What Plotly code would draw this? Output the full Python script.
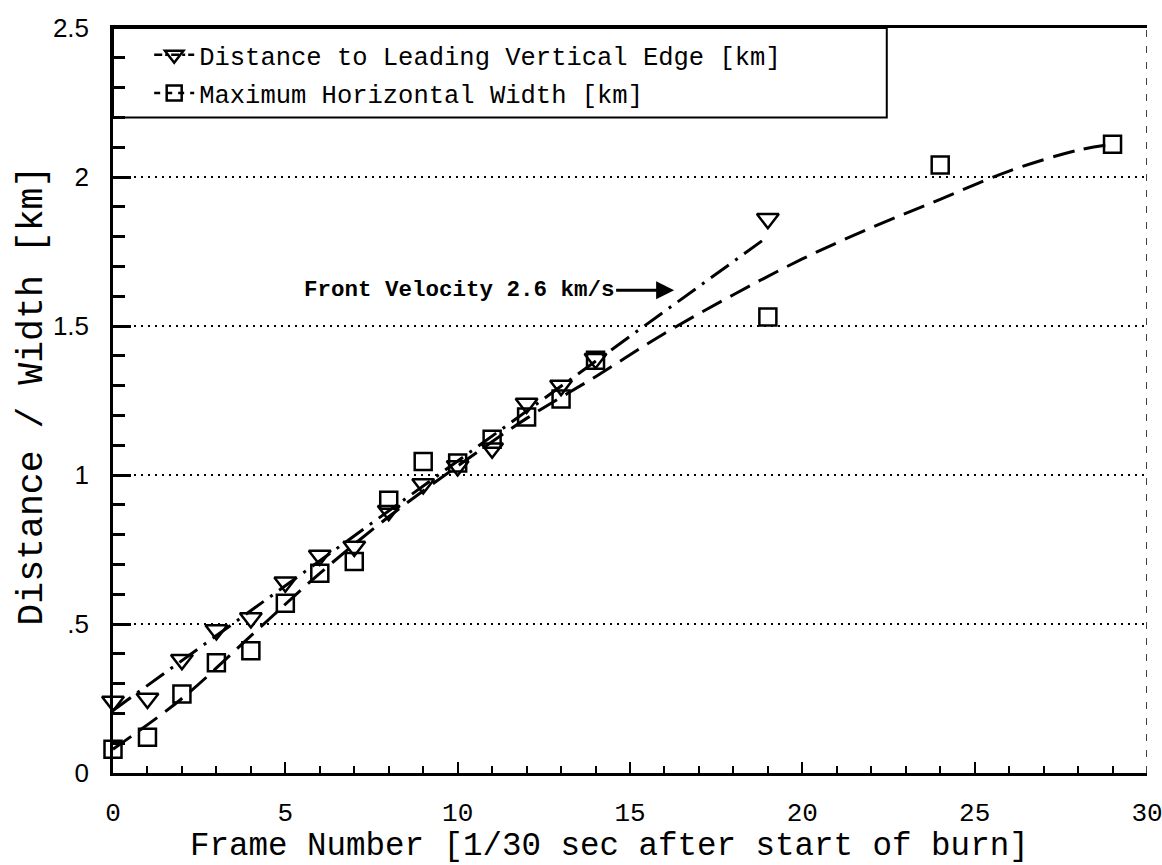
import plotly.graph_objects as go

# Measured positions of the flame front, frame by frame (1/30 s per frame)
edge_frames = [0, 1, 2, 3, 4, 5, 6, 7, 8, 9, 10, 11, 12, 13, 14, 19]
edge_km = [0.24, 0.25, 0.38, 0.48, 0.52, 0.64, 0.73, 0.76, 0.88, 0.97,
           1.03, 1.09, 1.24, 1.30, 1.39, 1.86]

width_frames = [0, 1, 2, 3, 4, 5, 6, 7, 8, 9, 10, 11, 12, 13, 14, 19, 24, 29]
width_km = [0.08, 0.12, 0.265, 0.37, 0.41, 0.57, 0.67, 0.71, 0.915, 1.045,
            1.04, 1.12, 1.195, 1.255, 1.385, 1.53, 2.04, 2.11]

# Fitted curves drawn through the measurements
edge_fit_frames = [0, 19]
edge_fit_km = [0.21, 1.80]

width_fit_frames = [0, 2, 4, 6, 8, 10, 12, 14, 16, 18, 20, 22, 24, 26, 28, 29]
width_fit_km = [0.08, 0.25, 0.46, 0.67, 0.86, 1.03, 1.19, 1.33, 1.475, 1.605,
                1.725, 1.83, 1.925, 2.02, 2.09, 2.11]

y_tickvals = [0, 0.5, 1, 1.5, 2, 2.5]
y_ticktext = ["0", ".5", "1", "1.5", "2", "2.5"]
x_tickvals = [0, 5, 10, 15, 20, 25, 30]

edge_name = "Distance to Leading Vertical Edge [km]"
width_name = "Maximum Horizontal Width [km]"

MONO = "Liberation Mono, Courier New, monospace"
SANS = "Liberation Sans, Arial, sans-serif"
DASHDOT = "22px,8px,3px,8px"
DASH = "22px,10px"

fig = go.Figure()

# fitted curves
fig.add_trace(go.Scatter(
    x=edge_fit_frames, y=edge_fit_km, mode="lines",
    line=dict(color="black", width=3, dash=DASHDOT),
    showlegend=False, legendgroup="edge", hoverinfo="skip"))
fig.add_trace(go.Scatter(
    x=width_fit_frames, y=width_fit_km, mode="lines",
    line=dict(color="black", width=3, dash=DASH, shape="spline", smoothing=1.0),
    showlegend=False, legendgroup="width", hoverinfo="skip"))

# measurements
fig.add_trace(go.Scatter(
    x=edge_frames, y=edge_km, mode="markers", cliponaxis=False,
    marker=dict(symbol="triangle-down-open", size=19, color="black",
                line=dict(width=2.5, color="black")),
    showlegend=False, legendgroup="edge"))
fig.add_trace(go.Scatter(
    x=width_frames, y=width_km, mode="markers", cliponaxis=False,
    marker=dict(symbol="square-open", size=17, color="black",
                line=dict(width=2.5, color="black")),
    showlegend=False, legendgroup="width"))

# legend entries (line + marker sample)
fig.add_trace(go.Scatter(
    x=[None], y=[None], mode="lines+markers", name=edge_name,
    line=dict(color="black", width=2.5, dash="8px,3px,3px,3px"),
    marker=dict(symbol="triangle-down-open", size=16, color="black",
                line=dict(width=2.5, color="black")),
    legendgroup="edge"))
fig.add_trace(go.Scatter(
    x=[None], y=[None], mode="lines+markers", name=width_name,
    line=dict(color="black", width=2.5, dash="6px,6px"),
    marker=dict(symbol="square-open", size=15, color="black",
                line=dict(width=2.5, color="black")),
    legendgroup="width"))

# legend frame and dashed right border
fig.add_shape(type="rect", xref="x", yref="y", x0=0, x1=22.45, y0=2.2, y1=2.5,
              line=dict(color="black", width=2), layer="above")
fig.add_shape(type="line", xref="x", yref="y", x0=30, x1=30, y0=0, y1=2.5,
              line=dict(color="black", width=1.5, dash="7px,9px"), layer="above")

# velocity note with arrow
fig.add_annotation(
    x=16.28, y=1.62, xref="x", yref="y",
    text="<b>Front Velocity 2.6 km/s</b>",
    showarrow=True, ax=-215, ay=0, axref="pixel", ayref="pixel",
    arrowhead=2, arrowsize=1.2, arrowwidth=3, arrowcolor="black",
    font=dict(family=MONO, size=22.5, color="black"))

# axis titles
fig.add_annotation(
    xref="paper", yref="paper", x=0.4806, y=-0.099,
    xanchor="center", yanchor="middle", showarrow=False,
    text="Frame Number [1/30 sec after start of burn]",
    font=dict(family=MONO, size=32.5, color="black"))
fig.add_annotation(
    xref="paper", yref="paper", x=-0.078, y=0.507,
    xanchor="center", yanchor="middle", showarrow=False, textangle=-90,
    text="Distance / Width [km]",
    font=dict(family=MONO, size=36.5, color="black"))

fig.update_layout(
    width=1162, height=865,
    margin=dict(l=113, r=15, t=28, b=92, autoexpand=False),
    paper_bgcolor="white", plot_bgcolor="white",
    showlegend=True,
    legend=dict(x=0.035, y=0.995, xanchor="left", yanchor="top",
                bgcolor="rgba(0,0,0,0)", borderwidth=0,
                font=dict(family=MONO, size=25.5, color="black"),
                tracegroupgap=2, itemwidth=40),
)

fig.update_xaxes(
    range=[0, 30], tickvals=x_tickvals, automargin=False,
    ticklabeloverflow="allow",
    showline=True, linecolor="black", linewidth=3, mirror=True,
    ticks="inside", ticklen=11, tickwidth=2, tickcolor="black",
    minor=dict(dtick=1, ticks="inside", ticklen=7, tickwidth=1.5, tickcolor="black"),
    showgrid=False, zeroline=False,
    tickfont=dict(family=MONO, size=26, color="black"),
    ticklabelstandoff=14,
)
fig.update_yaxes(
    range=[0, 2.5], tickvals=y_tickvals, ticktext=y_ticktext, automargin=False,
    ticklabeloverflow="allow",
    showline=True, linecolor="black", linewidth=2.5, mirror=False,
    ticks="inside", ticklen=18, tickwidth=2.5, tickcolor="black",
    minor=dict(dtick=0.1, ticks="inside", ticklen=12, tickwidth=2.5,
               tickcolor="black", showgrid=False),
    showgrid=True, gridcolor="black", gridwidth=2, griddash="2px,5px",
    zeroline=False,
    tickfont=dict(family=SANS, size=26, color="black"),
    ticklabelstandoff=16,
)

fig.write_html("out.html")
